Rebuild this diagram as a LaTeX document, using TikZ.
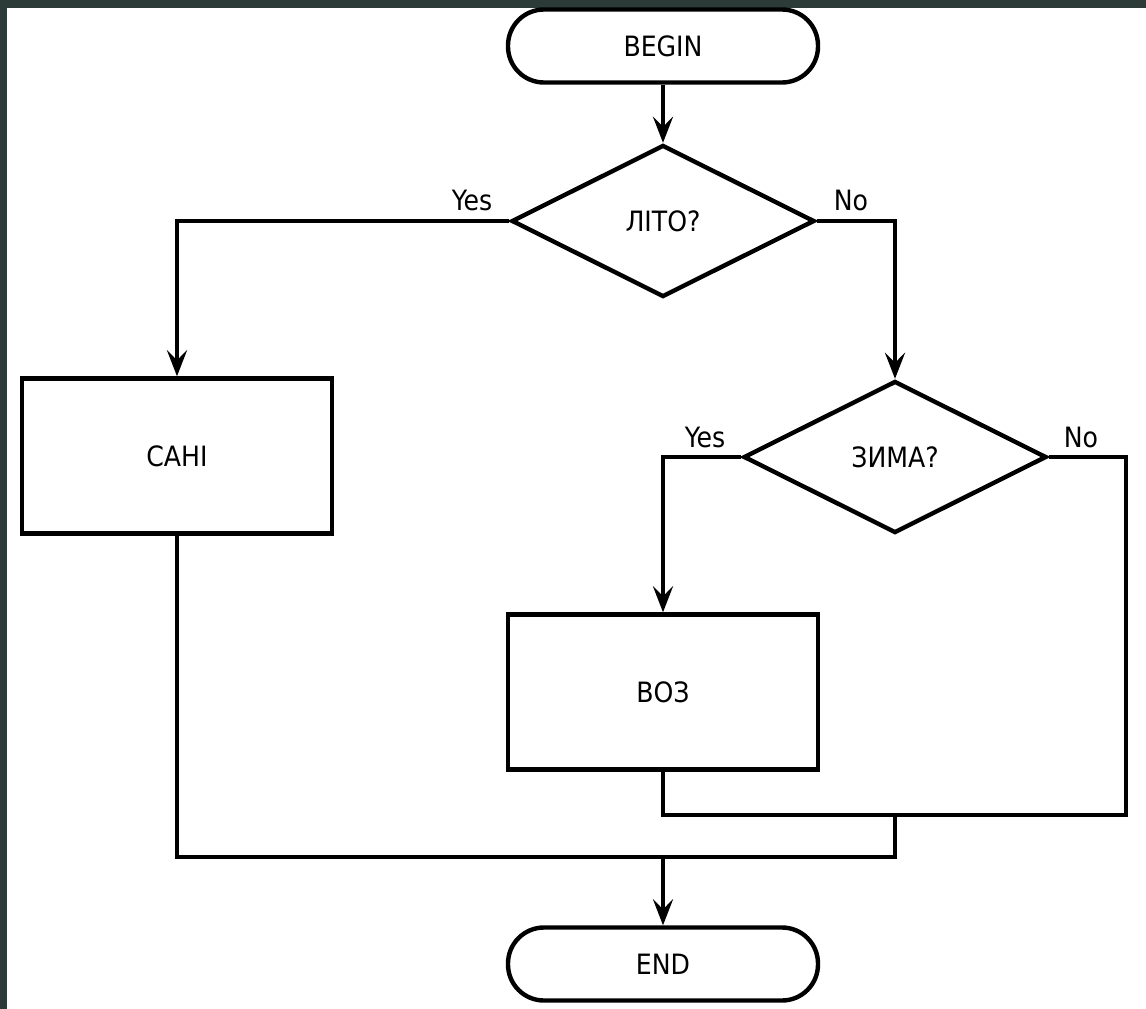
\documentclass[tikz,border=0pt]{standalone}
\usepackage{fontspec}
\setmainfont{DejaVu Sans Condensed}
\usetikzlibrary{shapes.geometric,arrows.meta}
\definecolor{frame}{HTML}{2C3B37}
\begin{document}
\begin{tikzpicture}[x=1pt,y=-1pt,
  every node/.style={font=\fontsize{28}{30}\selectfont},
  line/.style={line width=4.4pt},
  flow/.style={line, -{Stealth[length=26pt,width=20pt,inset=10pt]}},
  terminal/.style={draw, line width=4.4pt, rectangle, rounded corners=36pt,
    minimum width=310pt, minimum height=73pt, inner sep=0pt},
  process/.style={draw, line width=4.4pt, rectangle,
    minimum width=310pt, minimum height=155pt, inner sep=0pt},
  decision/.style={draw, line width=4.4pt, diamond, aspect=2,
    minimum width=303pt, minimum height=152pt, inner sep=0pt},
  lbl/.style={inner sep=0pt}]
  % canvas with a dark frame along the top and left edges
  \fill[frame] (0,0) rectangle (1146,1009);
  \fill[white] (7,8) rectangle (1146,1009);
  \useasboundingbox (0,0) rectangle (1146,1009);

  \node[terminal] (begin) at (663,46) {BEGIN};
  \node[decision] (q1) at (663,221) {ЛІТО?};
  \node[process] (sani) at (177,456) {САНІ};
  \node[decision] (q2) at (895,457) {ЗИМА?};
  \node[process] (voz) at (663,692) {ВОЗ};
  \node[terminal] (end) at (663,964) {END};

  % branch labels
  \node[lbl] at (472,200) {Yes};
  \node[lbl] at (851,200) {No};
  \node[lbl] at (705,437) {Yes};
  \node[lbl] at (1081,437) {No};

  % junction points of the merging lines
  \coordinate (vozjoin) at (663,815);
  \coordinate (noright) at (1126,815);
  \coordinate (mergeA) at (895,815);
  \coordinate (mergeB) at (895,857);
  \coordinate (mergeL) at (177,857);
  \coordinate (mergeC) at (663,857);

  \draw[flow] (begin.south) -- (q1.north);
  \draw[flow] (q1.west) -| (sani.north);
  \draw[flow] (q1.east) -| (q2.north);
  \draw[flow] (q2.west) -| (voz.north);
  \draw[line] (q2.east) -| (noright) -- (vozjoin) -- (voz.south);
  \draw[line] (mergeA) -- (mergeB) -- (mergeL) -- (sani.south);
  \draw[flow] (mergeC) -- (end.north);
\end{tikzpicture}
\end{document}
